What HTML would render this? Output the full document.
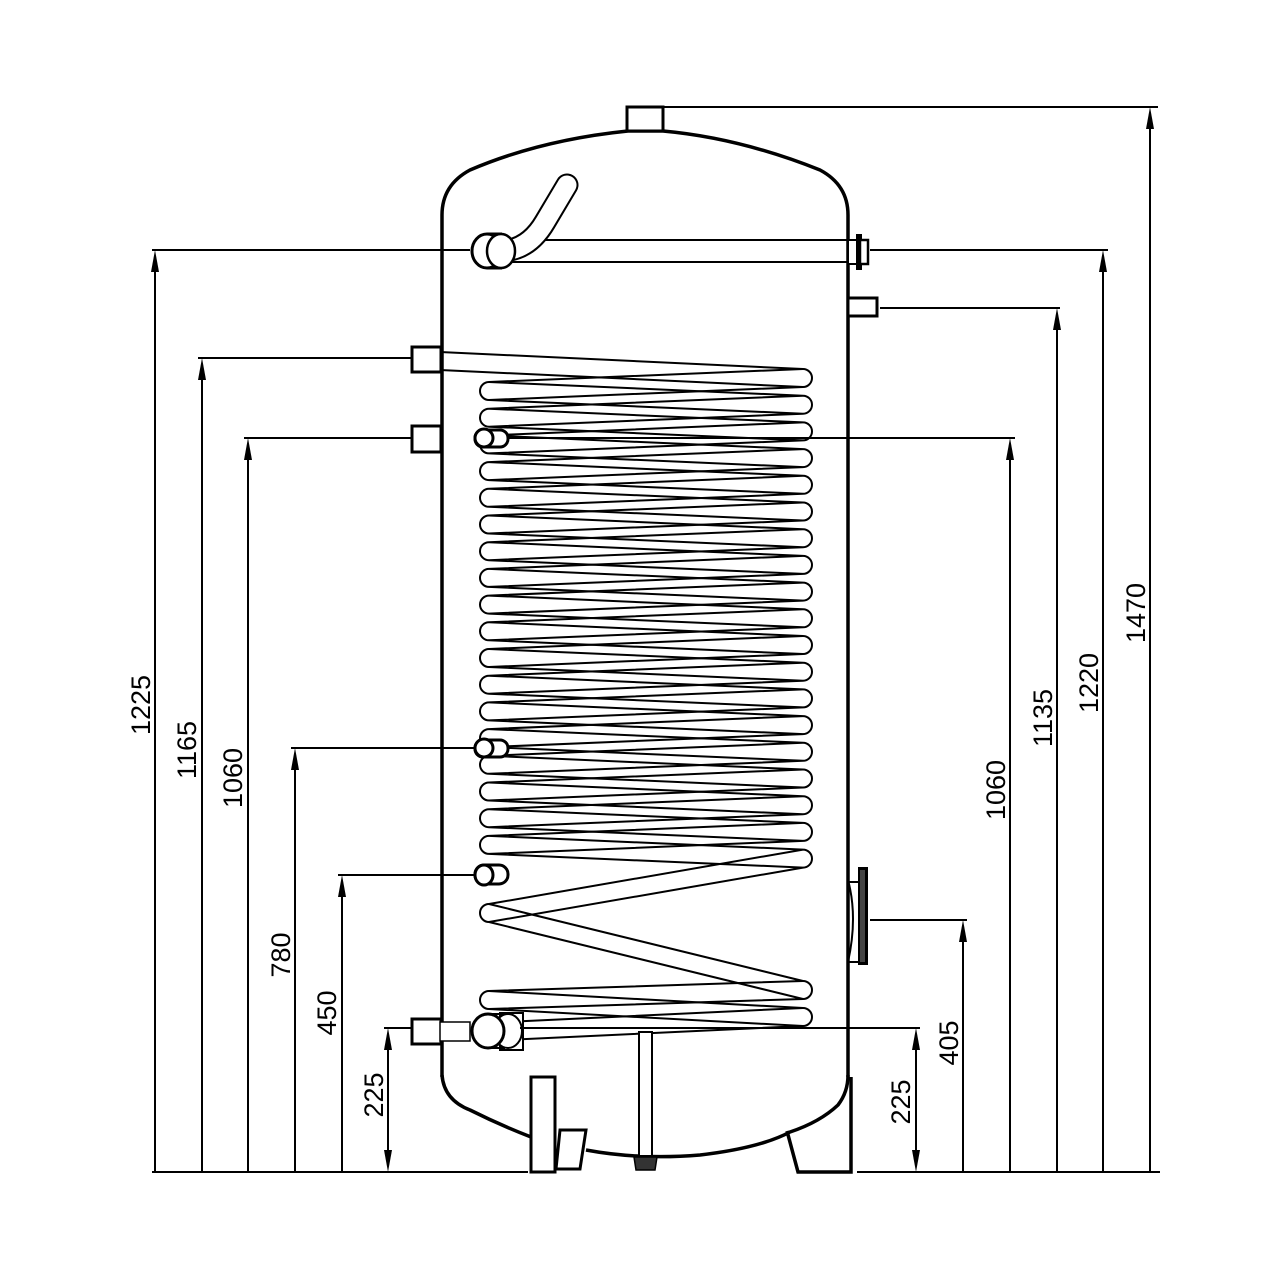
<!DOCTYPE html>
<html><head><meta charset="utf-8"><style>
html,body{margin:0;padding:0;background:#fff}
svg{display:block}
text{font-family:"Liberation Sans",sans-serif;font-size:27px;fill:#000}
</style></head><body>
<svg width="1280" height="1280" viewBox="0 0 1280 1280" xmlns="http://www.w3.org/2000/svg" xmlns:xlink="http://www.w3.org/1999/xlink">
<defs>
<path id="cl" d="M440 361 L803 378 L489 391 L803 404.7 L489 417.7 L803 431.4 L489 444.4 L803 458.1 L489 471.1 L803 484.8 L489 497.8 L803 511.5 L489 524.5 L803 538.2 L489 551.2 L803 564.9 L489 577.9 L803 591.6 L489 604.6 L803 618.3 L489 631.3 L803 645 L489 658 L803 671.7 L489 684.7 L803 698.4 L489 711.4 L803 725.1 L489 738.1 L803 751.8 L489 764.8 L803 778.5 L489 791.5 L803 805.2 L489 818.2 L803 831.9 L489 844.9 L803 858.6 L489 913 L803 990 L489 1000 L803 1017 L505 1031" fill="none" stroke="#000" stroke-width="2"/>
</defs>
<!-- coil -->
<use xlink:href="#cl" href="#cl" y="-9"/>
<use xlink:href="#cl" href="#cl" y="9"/>
<path fill="none" stroke="#000" stroke-width="2" d="M489 382 a9 9 0 0 0 0 18 M489 408.7 a9 9 0 0 0 0 18 M489 435.4 a9 9 0 0 0 0 18 M489 462.1 a9 9 0 0 0 0 18 M489 488.8 a9 9 0 0 0 0 18 M489 515.5 a9 9 0 0 0 0 18 M489 542.2 a9 9 0 0 0 0 18 M489 568.9 a9 9 0 0 0 0 18 M489 595.6 a9 9 0 0 0 0 18 M489 622.3 a9 9 0 0 0 0 18 M489 649 a9 9 0 0 0 0 18 M489 675.7 a9 9 0 0 0 0 18 M489 702.4 a9 9 0 0 0 0 18 M489 729.1 a9 9 0 0 0 0 18 M489 755.8 a9 9 0 0 0 0 18 M489 782.5 a9 9 0 0 0 0 18 M489 809.2 a9 9 0 0 0 0 18 M489 835.9 a9 9 0 0 0 0 18 M489 904 a9 9 0 0 0 0 18 M489 991 a9 9 0 0 0 0 18
M803 369 a9 9 0 0 1 0 18 M803 395.7 a9 9 0 0 1 0 18 M803 422.4 a9 9 0 0 1 0 18 M803 449.1 a9 9 0 0 1 0 18 M803 475.8 a9 9 0 0 1 0 18 M803 502.5 a9 9 0 0 1 0 18 M803 529.2 a9 9 0 0 1 0 18 M803 555.9 a9 9 0 0 1 0 18 M803 582.6 a9 9 0 0 1 0 18 M803 609.3 a9 9 0 0 1 0 18 M803 636 a9 9 0 0 1 0 18 M803 662.7 a9 9 0 0 1 0 18 M803 689.4 a9 9 0 0 1 0 18 M803 716.1 a9 9 0 0 1 0 18 M803 742.8 a9 9 0 0 1 0 18 M803 769.5 a9 9 0 0 1 0 18 M803 796.2 a9 9 0 0 1 0 18 M803 822.9 a9 9 0 0 1 0 18 M803 849.6 a9 9 0 0 1 0 18 M803 981 a9 9 0 0 1 0 18 M803 1008 a9 9 0 0 1 0 18"/>

<g fill="none" stroke="#000">
<!-- tank outline -->
<path d="M442 1077 L442 215 Q442 185 470 170 Q540 140 628 131 L663 131 Q740 138 820 170 Q848 185 848 215 L848 1077" stroke-width="3.5"/>
<path d="M442 1075 Q444 1100 470 1110 Q500 1125 531 1137" stroke-width="3.5"/>
<path d="M586 1150 Q640 1160 700 1155 Q760 1148 790 1132 Q820 1122 838 1105 Q848 1092 848 1075" stroke-width="3.5"/>
<!-- top nozzle -->
<rect x="627" y="107" width="36" height="24" fill="#fff" stroke-width="3"/>
<!-- top inlet pipe -->
<line x1="505" y1="240" x2="848" y2="240" stroke-width="2"/>
<line x1="505" y1="262" x2="848" y2="262" stroke-width="2"/>
<path d="M500 251 Q528 251 545 222 L567 185" stroke-width="23" stroke-linecap="round"/>
<path d="M500 251 Q528 251 545 222 L567 185" stroke="#fff" stroke-width="19" stroke-linecap="round"/>
<rect x="485" y="234" width="18" height="34" fill="#fff" stroke="none"/>
<line x1="487" y1="234" x2="502" y2="234" stroke-width="3"/>
<line x1="487" y1="268" x2="502" y2="268" stroke-width="3"/>
<ellipse cx="487" cy="251" rx="15" ry="17" fill="#fff" stroke-width="3"/>
<ellipse cx="501" cy="251" rx="14" ry="17" fill="#fff" stroke-width="2.5"/>
<!-- right flange top -->
<rect x="848" y="240" width="12" height="24" fill="#fff" stroke-width="2"/>
<rect x="856" y="234" width="6" height="36" fill="#000" stroke="none"/>
<rect x="860" y="240" width="8" height="24" fill="#fff" stroke-width="2.5"/>
<!-- right small nozzle -->
<rect x="848" y="298" width="29" height="18" fill="#fff" stroke-width="3"/>
<!-- left nozzles -->
<rect x="412" y="347" width="29" height="25" fill="#fff" stroke-width="3"/>
<rect x="412" y="426" width="29" height="26" fill="#fff" stroke-width="3"/>
<rect x="412" y="1019" width="29" height="25" fill="#fff" stroke-width="3"/>
<rect x="440" y="1022" width="30" height="19" fill="#fff" stroke-width="1.5"/>
<!-- sensor sleeves -->
<g stroke-width="3" fill="#fff">
<rect x="475" y="430" width="33" height="17" rx="8"/>
<ellipse cx="484" cy="438" rx="9" ry="9"/>
<rect x="475" y="740" width="33" height="17" rx="8"/>
<ellipse cx="484" cy="748" rx="9" ry="9"/>
<rect x="475" y="865" width="33" height="19" rx="9"/>
<ellipse cx="484" cy="875" rx="9" ry="10"/>
</g>
<!-- bottom outlet -->
<rect x="500" y="1013" width="23" height="37" fill="#fff" stroke-width="2"/>
<ellipse cx="508" cy="1031" rx="14" ry="17" fill="#fff" stroke-width="2"/>
<line x1="485" y1="1014" x2="505" y2="1014" stroke-width="2"/>
<line x1="485" y1="1048" x2="505" y2="1048" stroke-width="2"/>
<ellipse cx="488" cy="1031" rx="16" ry="17" fill="#fff" stroke-width="3"/>
<!-- right flange -->
<path d="M848 880 Q858 917 848 962" stroke-width="2"/>
<line x1="848" y1="882" x2="858" y2="882" stroke-width="2"/>
<line x1="848" y1="962" x2="858" y2="962" stroke-width="2"/>
<rect x="858" y="867" width="10" height="98" fill="#000" stroke="none"/>
<rect x="860" y="870" width="5" height="92" fill="#444" stroke="none"/>
<!-- drain pipe -->
<rect x="639" y="1032" width="13" height="124" fill="#fff" stroke-width="2"/>
<path d="M634 1157 L657 1157 L655 1170 L636 1170 Z" fill="#333" stroke-width="1.5"/>
<!-- legs -->
<rect x="531" y="1077" width="24" height="95" fill="#fff" stroke-width="3"/>
<path d="M560 1130 L586 1130 L580 1169 L556 1169 Z" fill="#fff" stroke-width="3"/>
<path d="M787 1131 L798 1172 L851 1172 L851 1077" stroke-width="3.5"/>
</g>

<!-- dimensions -->
<g stroke="#000" stroke-width="2" fill="none">
<line x1="152" y1="1172" x2="528" y2="1172"/>
<line x1="857" y1="1172" x2="1160" y2="1172"/>
<line x1="663" y1="107" x2="1158" y2="107"/>
<line x1="152" y1="250" x2="470" y2="250"/>
<line x1="870" y1="250" x2="1108" y2="250"/>
<line x1="880" y1="308" x2="1060" y2="308"/>
<line x1="198" y1="358" x2="412" y2="358"/>
<line x1="244" y1="438" x2="412" y2="438"/>
<line x1="508" y1="438" x2="1015" y2="438"/>
<line x1="291" y1="748" x2="475" y2="748"/>
<line x1="338" y1="875" x2="475" y2="875"/>
<line x1="384" y1="1028" x2="412" y2="1028"/>
<line x1="520" y1="1028" x2="920" y2="1028"/>
<line x1="870" y1="920" x2="967" y2="920"/>
<line x1="155" y1="272" x2="155" y2="1172"/>
<line x1="202" y1="380" x2="202" y2="1172"/>
<line x1="248" y1="460" x2="248" y2="1172"/>
<line x1="295" y1="770" x2="295" y2="1172"/>
<line x1="342" y1="897" x2="342" y2="1172"/>
<line x1="388" y1="1050" x2="388" y2="1150"/>
<line x1="1150" y1="129" x2="1150" y2="1172"/>
<line x1="1103" y1="272" x2="1103" y2="1172"/>
<line x1="1057" y1="330" x2="1057" y2="1172"/>
<line x1="1010" y1="460" x2="1010" y2="1172"/>
<line x1="963" y1="942" x2="963" y2="1172"/>
<line x1="916" y1="1050" x2="916" y2="1150"/>
</g>
<g fill="#000">
<path d="M155 250 l-4 22 h8z"/><path d="M202 358 l-4 22 h8z"/><path d="M248 438 l-4 22 h8z"/>
<path d="M295 748 l-4 22 h8z"/><path d="M342 875 l-4 22 h8z"/><path d="M388 1028 l-4 22 h8z"/>
<path d="M388 1172 l-4 -22 h8z"/>
<path d="M1150 107 l-4 22 h8z"/><path d="M1103 250 l-4 22 h8z"/><path d="M1057 308 l-4 22 h8z"/>
<path d="M1010 438 l-4 22 h8z"/><path d="M963 920 l-4 22 h8z"/><path d="M916 1028 l-4 22 h8z"/>
<path d="M916 1172 l-4 -22 h8z"/>
</g>
<g text-anchor="middle">
<text transform="translate(150,705) rotate(-90)">1225</text>
<text transform="translate(196,750) rotate(-90)">1165</text>
<text transform="translate(242,778) rotate(-90)">1060</text>
<text transform="translate(290,955) rotate(-90)">780</text>
<text transform="translate(336,1013) rotate(-90)">450</text>
<text transform="translate(383,1095) rotate(-90)">225</text>
<text transform="translate(1005,790) rotate(-90)">1060</text>
<text transform="translate(1052,718) rotate(-90)">1135</text>
<text transform="translate(1098,683) rotate(-90)">1220</text>
<text transform="translate(1145,613) rotate(-90)">1470</text>
<text transform="translate(958,1043) rotate(-90)">405</text>
<text transform="translate(910,1102) rotate(-90)">225</text>
</g>
</svg>
</body></html>
